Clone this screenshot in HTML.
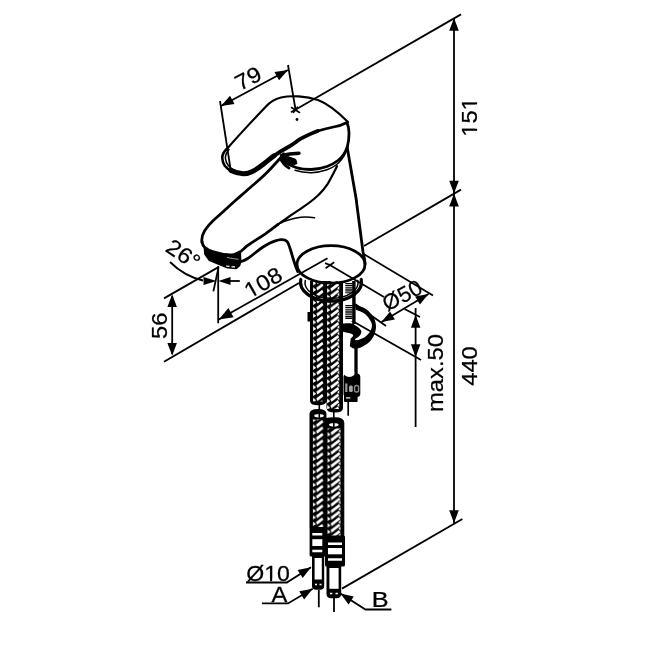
<!DOCTYPE html>
<html><head><meta charset="utf-8"><title>Faucet drawing</title>
<style>
html,body{margin:0;padding:0;background:#fff;}
svg{display:block;}
text{font-family:"Liberation Sans",Arial,sans-serif;fill:#000;stroke:#000;stroke-width:.25px;}
svg{will-change:transform;}
.t{stroke:#000;stroke-width:1.8;fill:none;stroke-linecap:butt;}
.n{stroke:#000;stroke-width:1.5;fill:none;stroke-linecap:round;stroke-linejoin:round;}
.h{stroke:#000;stroke-width:2.2;fill:none;stroke-linecap:round;stroke-linejoin:round;}
.m{stroke:#000;stroke-width:2.8;fill:none;stroke-linecap:round;stroke-linejoin:round;}
.k{stroke:#000;stroke-width:3.8;fill:none;stroke-linecap:round;stroke-linejoin:round;}
.k2{stroke:#000;stroke-width:3.2;fill:none;stroke-linecap:round;stroke-linejoin:round;}
.ah{fill:#000;stroke:none;}
</style></head><body>
<svg width="650" height="650" viewBox="0 0 650 650">
<rect width="650" height="650" fill="#fff"/>
<g id="dims">
<line class="t" x1="220.0" y1="101.0" x2="231.0" y2="172.0"/>
<line class="t" x1="288.0" y1="65.0" x2="295.6" y2="110.0"/>
<line class="t" x1="221.0" y1="106.0" x2="288.0" y2="70.0"/>
<polygon class="ah" points="221.0,106.0 230.0,95.8 234.5,104.1"/>
<polygon class="ah" points="288.0,70.0 279.0,80.2 274.5,71.9"/>
<g transform="translate(248.0,78.0) rotate(-28) scale(1.08,1)"><text font-size="22" text-anchor="middle" y="7.88">79</text></g>
<line class="t" x1="291.0" y1="112.3" x2="461.0" y2="14.4"/>
<line class="t" x1="454.0" y1="18.0" x2="454.0" y2="523.0"/>
<polygon class="ah" points="454.0,18.0 458.8,30.8 449.2,30.8"/>
<polygon class="ah" points="454.0,193.6 449.2,180.8 458.8,180.8"/>
<polygon class="ah" points="454.0,193.6 458.8,206.4 449.2,206.4"/>
<polygon class="ah" points="454.0,523.0 449.2,510.2 458.8,510.2"/>
<g transform="translate(469.5,117.0) rotate(-90) scale(1.08,1)"><text font-size="22" text-anchor="middle" y="7.88">151</text><rect x="-17.47" y="5.57" width="4.65" height="3.30" fill="#fff"/><rect x="-10.88" y="5.57" width="4.40" height="3.30" fill="#fff"/><rect x="7.00" y="5.57" width="4.65" height="3.30" fill="#fff"/><rect x="13.59" y="5.57" width="4.40" height="3.30" fill="#fff"/></g>
<g transform="translate(469.5,366.0) rotate(-90) scale(1.08,1)"><text font-size="22" text-anchor="middle" y="7.88">440</text></g>
<line class="t" x1="364.0" y1="246.0" x2="461.0" y2="189.6"/>
<line class="t" x1="342.0" y1="588.6" x2="462.4" y2="519.0"/>
<line class="t" x1="218.8" y1="319.5" x2="327.5" y2="258.3"/>
<polygon class="ah" points="218.8,319.5 228.4,308.1 233.6,317.2"/>
<g transform="translate(263.0,282.3) rotate(-30) scale(1.08,1)"><text font-size="22" text-anchor="middle" y="7.88">108</text><rect x="-17.47" y="5.57" width="4.65" height="3.30" fill="#fff"/><rect x="-10.88" y="5.57" width="4.40" height="3.30" fill="#fff"/></g>
<line class="t" x1="218.2" y1="266.0" x2="218.2" y2="323.3"/>
<line class="t" x1="164.0" y1="298.4" x2="218.0" y2="267.4"/>
<line class="t" x1="164.0" y1="361.8" x2="299.0" y2="283.0"/>
<line class="t" x1="172.2" y1="296.0" x2="172.2" y2="354.0"/>
<polygon class="ah" points="172.2,294.3 176.9,307.1 167.4,307.1"/>
<polygon class="ah" points="172.2,355.8 167.4,343.0 176.9,343.0"/>
<g transform="translate(159.0,325.7) rotate(-90) scale(1.08,1)"><text font-size="22" text-anchor="middle" y="7.88">56</text></g>
<line class="t" x1="218.5" y1="267.4" x2="213.4" y2="291.4"/>
<path class="t" d="M170,262 Q184,276 203,280.5"/>
<polygon class="ah" points="216.5,281.0 203.5,285.0 203.5,277.0"/>
<polygon class="ah" points="218.5,281.0 230.5,277.0 230.5,285.0"/>
<line class="t" x1="230.0" y1="281.0" x2="239.8" y2="281.0"/>
<g transform="translate(183.5,254.0) rotate(34) scale(1.08,1)"><text font-size="22" text-anchor="middle" y="7.88">26°</text></g>
<line class="t" x1="364.6" y1="254.6" x2="433.0" y2="295.4"/>
<line class="t" x1="355.0" y1="304.0" x2="386.0" y2="326.0"/>
<line class="t" x1="381.5" y1="322.0" x2="428.5" y2="294.0"/>
<polygon class="ah" points="381.5,322.0 390.1,311.4 394.9,319.5"/>
<polygon class="ah" points="428.5,294.0 419.9,304.6 415.1,296.5"/>
<g transform="translate(402.0,295.0) rotate(-28) scale(1.0,1)"><text font-size="22" text-anchor="middle" y="7.88">Ø50</text></g>
<line class="t" x1="329.0" y1="264.5" x2="384.0" y2="297.0"/>
<line class="t" x1="404.6" y1="309.0" x2="420.0" y2="317.0"/>
<line class="t" x1="415.6" y1="308.0" x2="415.6" y2="427.0"/>
<polygon class="ah" points="415.6,315.0 420.4,327.8 410.9,327.8"/>
<polygon class="ah" points="415.6,357.0 410.9,344.2 420.4,344.2"/>
<line class="t" x1="351.5" y1="320.5" x2="421.0" y2="360.0"/>
<g transform="translate(435.0,373.0) rotate(-90) scale(1.08,1)"><text font-size="22" text-anchor="middle" y="7.88">max.50</text></g>
<g transform="translate(246.3,581) scale(1.05,1)"><text font-size="22">Ø10</text><rect x="17.99" y="-2.31" width="4.65" height="3.30" fill="#fff"/><rect x="24.59" y="-2.31" width="4.40" height="3.30" fill="#fff"/></g>
<polyline class="t" points="246,582.5 286.8,582.5 311,567.3"/>
<polygon class="ah" points="311.0,567.3 302.7,578.1 297.6,570.1"/>
<polyline class="t" points="262,603.4 288,603.4 312.7,588.8"/>
<polygon class="ah" points="312.7,588.8 304.1,599.4 299.3,591.2"/>
<g transform="translate(271.5,602) scale(1.08,1)"><text font-size="22">A</text></g>
<polyline class="t" points="391.4,609.5 365.5,609.5 340.4,593.5"/>
<polygon class="ah" points="340.4,593.5 353.7,596.4 348.6,604.4"/>
<g transform="translate(371.8,607.3) scale(1.15,1)"><text font-size="22">B</text></g>
<line class="t" x1="318.8" y1="590.0" x2="318.8" y2="607.3"/>
<line class="t" x1="334.0" y1="598.0" x2="334.0" y2="612.0"/>
</g>
<g id="hoses">
<defs><pattern id="pa" x="313" y="283.6" width="40" height="6.5" patternUnits="userSpaceOnUse"><rect width="40" height="6.5" fill="#000"/><polygon fill="#fff" points="3.30,-8.85 9.10,-13.20 10.50,-11.00 4.50,-6.05"/><polygon fill="#fff" points="0.10,-9.35 3.20,-6.75 0.10,-4.55"/><polygon fill="#fff" points="3.30,-2.35 9.10,-6.70 10.50,-4.50 4.50,0.45"/><polygon fill="#fff" points="0.10,-2.85 3.20,-0.25 0.10,1.95"/><polygon fill="#fff" points="3.30,4.15 9.10,-0.20 10.50,2.00 4.50,6.95"/><polygon fill="#fff" points="0.10,3.65 3.20,6.25 0.10,8.45"/><polygon fill="#fff" points="3.30,10.65 9.10,6.30 10.50,8.50 4.50,13.45"/><polygon fill="#fff" points="0.10,10.15 3.20,12.75 0.10,14.95"/></pattern><pattern id="pb" x="327" y="283.2" width="40" height="6.5" patternUnits="userSpaceOnUse"><rect width="40" height="6.5" fill="#000"/><polygon fill="#fff" points="3.30,-7.58 10.80,-13.20 12.20,-11.00 4.50,-4.78"/><polygon fill="#fff" points="0.10,-8.07 3.20,-5.47 0.10,-3.28"/><polygon fill="#fff" points="12.50,-10.10 10.20,-8.00 12.50,-6.30"/><polygon fill="#fff" points="3.30,-1.08 10.80,-6.70 12.20,-4.50 4.50,1.72"/><polygon fill="#fff" points="0.10,-1.58 3.20,1.03 0.10,3.22"/><polygon fill="#fff" points="12.50,-3.60 10.20,-1.50 12.50,0.20"/><polygon fill="#fff" points="3.30,5.42 10.80,-0.20 12.20,2.00 4.50,8.22"/><polygon fill="#fff" points="0.10,4.92 3.20,7.53 0.10,9.72"/><polygon fill="#fff" points="12.50,2.90 10.20,5.00 12.50,6.70"/><polygon fill="#fff" points="3.30,11.93 10.80,6.30 12.20,8.50 4.50,14.72"/><polygon fill="#fff" points="0.10,11.43 3.20,14.03 0.10,16.23"/><polygon fill="#fff" points="12.50,9.40 10.20,11.50 12.50,13.20"/></pattern><pattern id="pc" x="312.7" y="433.1" width="40" height="6.5" patternUnits="userSpaceOnUse"><rect width="40" height="6.5" fill="#000"/><polygon fill="#fff" points="3.30,-8.62 9.40,-13.20 10.80,-11.00 4.50,-5.83"/><polygon fill="#fff" points="0.10,-9.12 3.20,-6.53 0.10,-4.33"/><polygon fill="#fff" points="3.30,-2.13 9.40,-6.70 10.80,-4.50 4.50,0.67"/><polygon fill="#fff" points="0.10,-2.63 3.20,-0.03 0.10,2.17"/><polygon fill="#fff" points="3.30,4.37 9.40,-0.20 10.80,2.00 4.50,7.17"/><polygon fill="#fff" points="0.10,3.87 3.20,6.47 0.10,8.67"/><polygon fill="#fff" points="3.30,10.88 9.40,6.30 10.80,8.50 4.50,13.67"/><polygon fill="#fff" points="0.10,10.38 3.20,12.97 0.10,15.17"/></pattern><pattern id="pd" x="327.3" y="432.7" width="40" height="6.5" patternUnits="userSpaceOnUse"><rect width="40" height="6.5" fill="#000"/><polygon fill="#fff" points="3.30,-6.83 11.80,-13.20 13.20,-11.00 4.50,-4.03"/><polygon fill="#fff" points="0.10,-7.33 3.20,-4.72 0.10,-2.53"/><polygon fill="#fff" points="13.50,-10.10 11.20,-8.00 13.50,-6.30"/><polygon fill="#fff" points="3.30,-0.33 11.80,-6.70 13.20,-4.50 4.50,2.47"/><polygon fill="#fff" points="0.10,-0.83 3.20,1.78 0.10,3.97"/><polygon fill="#fff" points="13.50,-3.60 11.20,-1.50 13.50,0.20"/><polygon fill="#fff" points="3.30,6.17 11.80,-0.20 13.20,2.00 4.50,8.97"/><polygon fill="#fff" points="0.10,5.67 3.20,8.28 0.10,10.47"/><polygon fill="#fff" points="13.50,2.90 11.20,5.00 13.50,6.70"/><polygon fill="#fff" points="3.30,12.68 11.80,6.30 13.20,8.50 4.50,15.47"/><polygon fill="#fff" points="0.10,12.18 3.20,14.78 0.10,16.98"/><polygon fill="#fff" points="13.50,9.40 11.20,11.50 13.50,13.20"/></pattern></defs>
<path d="M310,281 H343 V408 Q343,412.6 335,412.6 Q326.5,412.6 326.5,408 V401.5 Q326,405.2 318,405.2 Q310,405.2 310,401 Z" fill="#000"/>
<rect x="313" y="281" width="10.8" height="120.5" fill="url(#pa)"/>
<rect x="327" y="281" width="12.5" height="128" fill="url(#pb)"/>
<path d="M309.5,414 Q309.5,409 318,409 Q326.5,409 326.5,414 V418 Q328,417.3 335,417.3 Q344.3,417.3 344.3,423 V537 H326 V528 H309.5 Z" fill="#000"/>
<rect x="312.7" y="419.5" width="11.1" height="110" fill="url(#pc)"/>
<rect x="327.3" y="428.5" width="13.5" height="110" fill="url(#pd)"/>
<ellipse cx="319" cy="415.7" rx="4.8" ry="1.7" fill="#fff"/>
<ellipse cx="333.8" cy="424.8" rx="4.8" ry="1.8" fill="#fff"/>
<path d="M319.3,404.5 V419 M333.8,412 V428" stroke="#000" stroke-width="1.6"/>
<rect x="309.6" y="527" width="16.4" height="29.5" rx="1.5" fill="#000"/>
<path d="M312.3,534.2 h10 M312.3,551 h10" stroke="#fff" stroke-width="2.6"/>
<rect x="312.3" y="539.2" width="10" height="6.8" fill="#fff"/>
<rect x="325" y="535.5" width="20" height="31" rx="1.5" fill="#000"/>
<path d="M328,543.8 h14 M328,559.5 h14" stroke="#fff" stroke-width="2.4"/>
<rect x="328" y="548" width="14" height="6.3" fill="#fff"/>
<path d="M312,556 H324.2 V586 Q324.2,589.8 320,589.8 H316 Q312,589.8 312,586 Z" fill="#000"/>
<rect x="314.6" y="558" width="7.2" height="21.5" fill="#fff"/>
<path d="M315,584.5 h2 M319.5,584.5 h2" stroke="#fff" stroke-width="1.3"/>
<path d="M326.5,566 H341.2 V593.5 Q341.2,598.2 336.5,598.2 H331 Q326.5,598.2 326.5,593.5 Z" fill="#000"/>
<rect x="329.4" y="568" width="9.2" height="20.8" fill="#fff"/>
<path d="M330,593.5 h2.4 M335.5,593.5 h2.4" stroke="#fff" stroke-width="1.3"/>
<rect x="344" y="281" width="9" height="40" fill="#fff"/>
<path d="M345.3,283.5 h7.2 M345.3,285.4 h7.2 M345.3,287.2 h7.2 M345.3,289.1 h7.2 M345.3,290.9 h7.2 M345.3,292.8 h7.2 M345.3,305.5 h7.2 M345.3,307.4 h7.2 M345.3,309.2 h7.2 M345.3,311.1 h7.2 M345.3,312.9 h7.2 M345.3,314.8 h7.2 M345.3,316.6 h7.2 M345.3,318.4 h7.2 " stroke="#000" stroke-width="1.1"/>
<path d="M353.9,281 V324" stroke="#000" stroke-width="3.4"/>
<path d="M355.0,304.8 C356.8,305.5 362.9,306.9 366.0,309.0 C369.1,311.1 371.8,314.7 373.5,317.5 C375.2,320.3 375.9,323.2 376.0,326.0 C376.1,328.8 375.5,331.7 374.4,334.4 C373.3,337.1 371.4,339.9 369.3,342.0 C367.2,344.1 364.1,345.9 361.7,347.0 C359.3,348.1 357.0,348.9 355.0,348.8 C353.0,348.7 350.7,346.6 349.8,346.2 L350.7,338.6 C351.1,338.1 353.2,336.5 353.2,335.6 C353.2,334.8 352.5,334.1 350.7,333.5 C348.9,332.9 343.6,332.1 342.2,331.8 L342.2,323.4 C343.8,323.4 348.9,322.8 351.5,323.4 C354.1,324.0 355.9,325.5 357.5,326.8 C359.1,328.1 360.9,329.6 361.3,331.0 C361.7,332.4 360.9,333.9 360.0,335.2 C359.1,336.5 356.6,337.8 355.8,338.6 C355.0,339.5 355.1,340.0 355.0,340.3 L358.3,339.9 C359.4,339.4 363.1,338.4 365.0,337.0 C366.9,335.6 368.9,333.5 370.0,331.8 C371.1,330.1 371.6,328.5 371.8,326.8 C372.0,325.1 372.1,323.8 371.0,321.7 C369.9,319.6 367.5,316.0 365.0,314.0 C362.5,312.0 357.3,310.5 355.8,309.8 Z" fill="#000"/>
<path d="M356,347 V376" stroke="#000" stroke-width="3.3"/>
<rect x="343.5" y="373.5" width="16.8" height="23.5" rx="3.5" fill="#000"/>
<path d="M344.3,372 V375 Q349.3,379.2 354.3,375 V372 Z" fill="#fff"/>
<rect x="345.2" y="383.5" width="2.2" height="8.5" fill="#9a9a9a"/><rect x="349" y="385.5" width="3.8" height="6.5" rx="1.5" fill="#a5a5a5"/><rect x="354.6" y="385.5" width="4" height="6.5" rx="1.8" fill="none" stroke="#8a8a8a" stroke-width="1.4"/>
<rect x="344" y="395" width="13.6" height="7" rx="1" fill="#000"/>
<rect x="346" y="397.3" width="4.3" height="1.2" fill="#fff"/>
<path d="M348.2,401.5 V415.7" stroke="#000" stroke-width="1.7"/>
<rect x="307.5" y="312" width="3" height="9.5" fill="#000"/>
</g>
<g id="faucet">
<path class="h" d="M226,150 C238,136 254,119 266,106.5 C270,102 275,99 281,97.5 C291,95.3 306,96 318,100 C330,104.5 340,114 348,122"/>
<path class="h" style="stroke-width:2.6" d="M227.2,148.5 C224,151.5 222,155 222.3,158.3 C222.5,161 223.2,163.5 224.8,165.7 C226.5,168 229,170 232.2,171.2"/>
<path class="k" style="stroke-width:5" d="M231,170.6 C235,172.6 239,173.7 243.2,173.7 C246.5,173.7 250,172.8 253,171.2 C256.5,169.3 260,166.8 263,164.5 C266.5,161.8 270,158.8 274,155.8"/>
<path class="k" d="M272,157.2 C277,153.5 283,149.8 290,146 C294,143.7 297.5,140.5 300.8,138.6 C307,135.5 312,133 317.7,131"/>
<path class="h" style="stroke-width:2.6" d="M316,131.6 C324,129 329,128 334.6,126.8 C339,126 343,124.5 347,122.5"/>
<path class="n" d="M229,149.5 C226.5,152.5 225.2,155.5 225.4,158.3 C225.7,161 226.8,163.8 228.5,165.7 C230.5,168 233,170 236,171"/>
<path class="m" d="M347,122.5 C349.3,128 349.5,138 347.3,147"/>
<path class="m" d="M347,147.5 C345,154 342,157.5 338,160.5 C334,163.5 331,165 327,166.5 C322,168.3 317,169.3 311,169.5 C305,169.5 300,168.8 296,167.5 C290,165.5 285,163 281,160"/>
<path class="n" d="M345.5,153 C343,158.5 340,162 336,165 C333,167.3 330,168.8 327,169.8 C322,171.5 317,172.5 311.5,172.7 C305,172.8 300,172 295,170.3"/>
<path class="k" style="stroke-width:3.4" d="M299,153.2 C292,153.6 287,154.2 281.5,155.3"/>
<path d="M280.5,155 L288,156.6 L295.7,159.3 L297,163.6 L291,165.8 L285,163 L281.5,158.5 Z" fill="#000" stroke="#000" stroke-width="1" stroke-linejoin="round"/>
<path class="m" d="M280.5,158 C282,162 285,166 289,168"/>
<path class="n" d="M291.5,107.5 L299.5,112.5 M293.5,112.5 L297.5,107"/>
<circle cx="297" cy="119.5" r="1.4" fill="#000"/>
<path class="m" d="M283.8,153.8 C282,156 280.5,158 278.8,159.8 C275,164 271,168.5 267,172.5 C261,178.5 256,182.5 250,187.7 C245,192 240,196.5 236,200 C228,207 222,213 216,218 C211.5,222 207,227 204.5,231 C202,235 201.5,239 202,242.5"/>
<path class="m" d="M202,241.6 C202.3,244 203,245.8 204.6,247.2 C207,249.5 210,250.8 213.5,251.8 C217,252.9 221,253.8 224.5,254.5 C228,255 231,255.2 233.8,254.5 C236,254 238,253.2 240.2,251.8 C242.5,250.2 244.5,248 246.7,246.2 L250,243.8 C255,240.5 260,237.5 265.4,233.8 C269,231.2 273.5,227.8 277.7,224.6"/>
<path class="h" d="M277.7,224.6 C281,222.2 285,219.5 288.5,217 C293,213.8 298,210.8 302.3,207.7 C306.5,204.8 311,201.5 314.6,198.5 C318,195.7 321,192.5 323.8,189.2 C327,185.3 329.5,181.3 331.5,177 C333.5,173.2 335.5,169.5 337,166.2"/>
<path class="n" d="M279,223.8 C282,222.3 285,221 288.5,220 C292.5,218.8 296.5,217.8 300.8,217.2 C305.5,216.8 310,217 314.6,217.7"/>
<path class="m" d="M241.2,261.5 C243.5,260.8 245.5,259.8 247.7,258.5 C250.5,256.8 252.5,255 255,253 C257.5,251 260,249 263,247 C265.5,245.4 267.5,244.2 270,243 C272,242 273.5,241.4 275.4,240.8 C277.5,240.1 279,239.7 280.8,239.6 C282.5,239.5 283.5,239.6 284.6,240 C285.8,240.5 286.8,241.2 287.5,242 C288.2,243 288.6,244.2 289,245.4 C290,248 290.7,250.5 291.5,253 C292.3,255.8 293,258.3 293.8,260.8 C295,264.8 296.3,268.3 297.7,271.5"/>
<path d="M203.5,247 C207,250 210,251.2 213.5,252.2 C221,254.5 229,255.8 233.8,255 C237,254.3 239,253 241,251.5 L241.5,262 L240.2,266 L236.5,269.3 L227.3,268.4 L218,264.7 L208.9,261 L204.2,254.5 Z" fill="#000"/>
<path d="M227,257.4 C231,258.3 234,258.8 238.4,259.3" stroke="#fff" stroke-width="0.6" fill="none"/>
<path d="M226,266 l3.5,0.4 M231.5,266.8 l3.5,0" stroke="#fff" stroke-width="1.2" fill="none"/>
<path class="m" d="M347.3,148 L356,198 L363,252 C364.5,258 365,262 365,264"/>
<ellipse class="m" cx="331" cy="264.4" rx="34" ry="18.7"/>
<path class="t" d="M325,263.1 L330,265 M325.6,268.2 L334.2,262.2"/>
<path class="k2" d="M300.8,279.5 A30.5,19 0 1 0 361.2,279.5"/>
<path class="n" d="M305.3,280.5 A26.5,15.5 0 1 0 357.7,280.5"/>
</g>
</svg>
</body></html>
